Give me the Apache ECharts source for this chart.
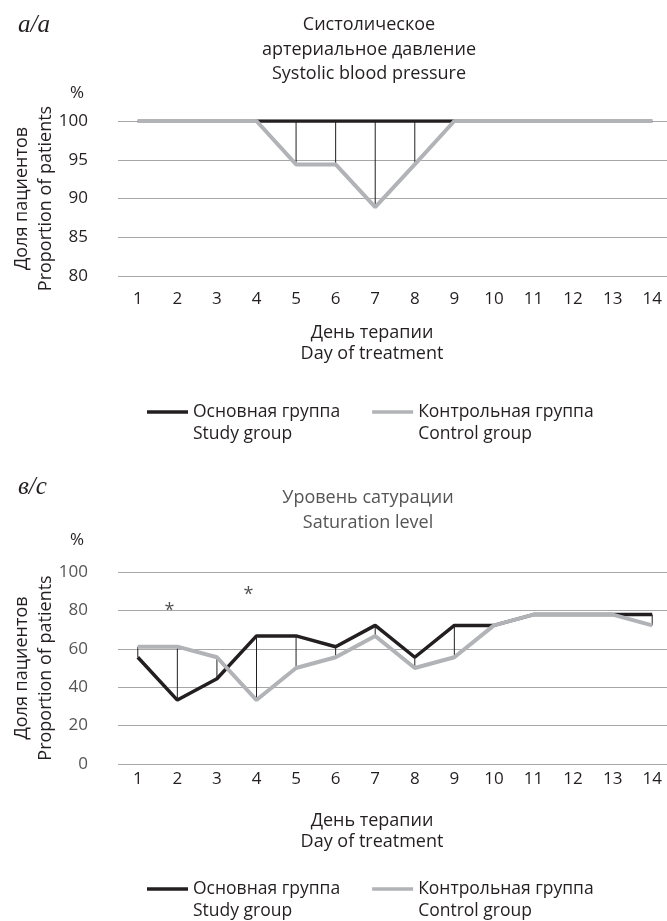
<!DOCTYPE html>
<html>
<head>
<meta charset="utf-8">
<title>Systolic pressure / saturation</title>
<script src="https://cdn.jsdelivr.net/npm/echarts@6/dist/echarts.min.js"></script>
<style>
  html, body { margin: 0; padding: 0; background: #fff; }
  #chart { width: 667px; height: 921px; }
</style>
</head>
<body>
<div id="chart"></div>
<script>
  // дни терапии
  const days = ['1', '2', '3', '4', '5', '6', '7', '8', '9', '10', '11', '12', '13', '14']

  // a: систолическое давление, % пациентов
  const sbpStudy = [100, 100, 100, 100, 100, 100, 100, 100, 100, 100, 100, 100, 100, 100]
  const sbpControl = [100, 100, 100, 100, 94.4, 94.4, 88.9, 94.4, 100, 100, 100, 100, 100, 100]
  const sbpTicks = [80, 100, 5]

  // c: сатурация, % пациентов
  const satStudy = [55.6, 33.3, 44.4, 66.7, 66.7, 61.1, 72.2, 55.6, 72.2, 72.2, 77.8, 77.8, 77.8, 77.8]
  const satControl = [61.1, 61.1, 55.6, 33.3, 50, 55.6, 66.7, 50, 55.6, 72.2, 77.8, 77.8, 77.8, 72.2]
  const satTicks = [0, 100, 20]

  // звездочки (p < 0.05)
  const starDays = ['2', '4']
  const starValues = [82, 90]

  const nameStudy = 'Основная группа\nStudy group'
  const nameControl = 'Контрольная группа\nControl group'

  const ink = '#231f20'
  const grey = '#b1b3b6'
  const font = 'Open Sans'

  /** вертикальные линии между группами */
  const dropLines = (idx, a, b) => ({
    type: 'custom',
    xAxisIndex: idx,
    yAxisIndex: idx,
    silent: true,
    z: 1,
    data: days.map((d, i) => [i, a[i], b[i]]),
    encode: { x: 0, y: [1, 2] },
    renderItem: (params, api) => {
      const p1 = api.coord([api.value(0), api.value(1)])
      const p2 = api.coord([api.value(0), api.value(2)])
      return {
        type: 'line',
        shape: { x1: p1[0], y1: p1[1], x2: p2[0], y2: p2[1] },
        style: { stroke: ink, lineWidth: 1 }
      }
    }
  })

  const lineSeries = (idx, name, data, color, width) => ({
    type: 'line',
    name: name,
    xAxisIndex: idx,
    yAxisIndex: idx,
    data: data,
    symbol: 'none',
    z: 2,
    lineStyle: { color: color, width: width },
    itemStyle: { color: color }
  })

  const xAxis = (idx, margin) => ({
    type: 'category',
    gridIndex: idx,
    data: days,
    boundaryGap: true,
    axisLine: { show: false },
    axisTick: { show: false },
    axisLabel: { color: ink, fontSize: 17, margin: margin }
  })

  const yAxis = (idx, ticks, labelColor) => ({
    type: 'value',
    gridIndex: idx,
    min: ticks[0],
    max: ticks[1],
    interval: ticks[2],
    axisLine: { show: false },
    axisTick: { show: false },
    axisLabel: { color: labelColor, fontSize: 17, margin: 30 },
    splitLine: { lineStyle: { color: '#a7a7a7', width: 1 } },
    name: 'Доля пациентов\nProportion of patients',
    nameLocation: 'middle',
    nameGap: 60,
    nameMoveOverlap: false,
    nameTextStyle: { color: ink, fontSize: 18, lineHeight: 24 }
  })

  // пустая строка сверху, чтобы линия стояла напротив первой строки
  const legend = (top) => ({
    top: top,
    left: 142,
    data: [nameStudy, nameControl],
    formatter: (name) => ' \n' + name,
    icon: 'rect',
    itemWidth: 41,
    itemHeight: 3.5,
    itemGap: 32,
    selectedMode: false,
    textStyle: { color: ink, fontSize: 17.5, lineHeight: 22 }
  })

  const textStyle = (size, lh, color) => ({ color: color || ink, fontFamily: font, fontSize: size, fontWeight: 'normal', lineHeight: lh })
  const letterStyle = { color: ink, fontFamily: 'Liberation Serif', fontStyle: 'italic', fontWeight: 'normal', fontSize: 25, lineHeight: 28 }

  const chart = echarts.init(document.getElementById('chart'))
  chart.setOption({
    animation: false,
    textStyle: { fontFamily: font },
    title: [
      { text: 'a/a', left: 18, top: 11, padding: 0, textStyle: letterStyle },
      {
        text: 'Систолическое\nартериальное давление\nSystolic blood pressure',
        left: 369, top: 13, padding: 0, textAlign: 'center',
        textStyle: textStyle(18, 24.5)
      },
      { text: '%', left: 70, top: 82, padding: 0, textStyle: textStyle(17, 22) },
      { text: 'День терапии\nDay of treatment', left: 372, top: 322, padding: 0, textAlign: 'center', textStyle: textStyle(18, 21) },
      { text: 'в/с', left: 18, top: 473, padding: 0, textStyle: letterStyle },
      {
        text: 'Уровень сатурации\nSaturation level',
        left: 368, top: 485.5, padding: 0, textAlign: 'center',
        textStyle: textStyle(18, 25, '#555')
      },
      { text: '%', left: 70, top: 529, padding: 0, textStyle: textStyle(17, 22) },
      { text: 'День терапии\nDay of treatment', left: 372, top: 810, padding: 0, textAlign: 'center', textStyle: textStyle(18, 21) }
    ],
    legend: [legend(374), legend(851)],
    grid: [
      { left: 118, right: -5, top: 121, height: 155, outerBoundsMode: 'none' },
      { left: 118, right: -5, top: 572, height: 192, outerBoundsMode: 'none' }
    ],
    xAxis: [xAxis(0, 15), xAxis(1, 7)],
    yAxis: [yAxis(0, sbpTicks, ink), yAxis(1, satTicks, '#555')],
    series: [
      dropLines(0, sbpStudy, sbpControl),
      lineSeries(0, nameStudy, sbpStudy, ink, 3.5),
      lineSeries(0, nameControl, sbpControl, grey, 4),
      dropLines(1, satStudy, satControl),
      lineSeries(1, nameStudy, satStudy, ink, 3.5),
      lineSeries(1, nameControl, satControl, grey, 4),
      {
        type: 'scatter',
        xAxisIndex: 1,
        yAxisIndex: 1,
        silent: true,
        data: starDays.map((d, i) => [d, starValues[i]]),
        symbolSize: 1,
        itemStyle: { color: 'rgba(0,0,0,0)' },
        label: { show: true, formatter: '*', position: 'inside', offset: [-8, 4], color: ink, fontSize: 18 }
      }
    ]
  })
</script>
</body>
</html>
